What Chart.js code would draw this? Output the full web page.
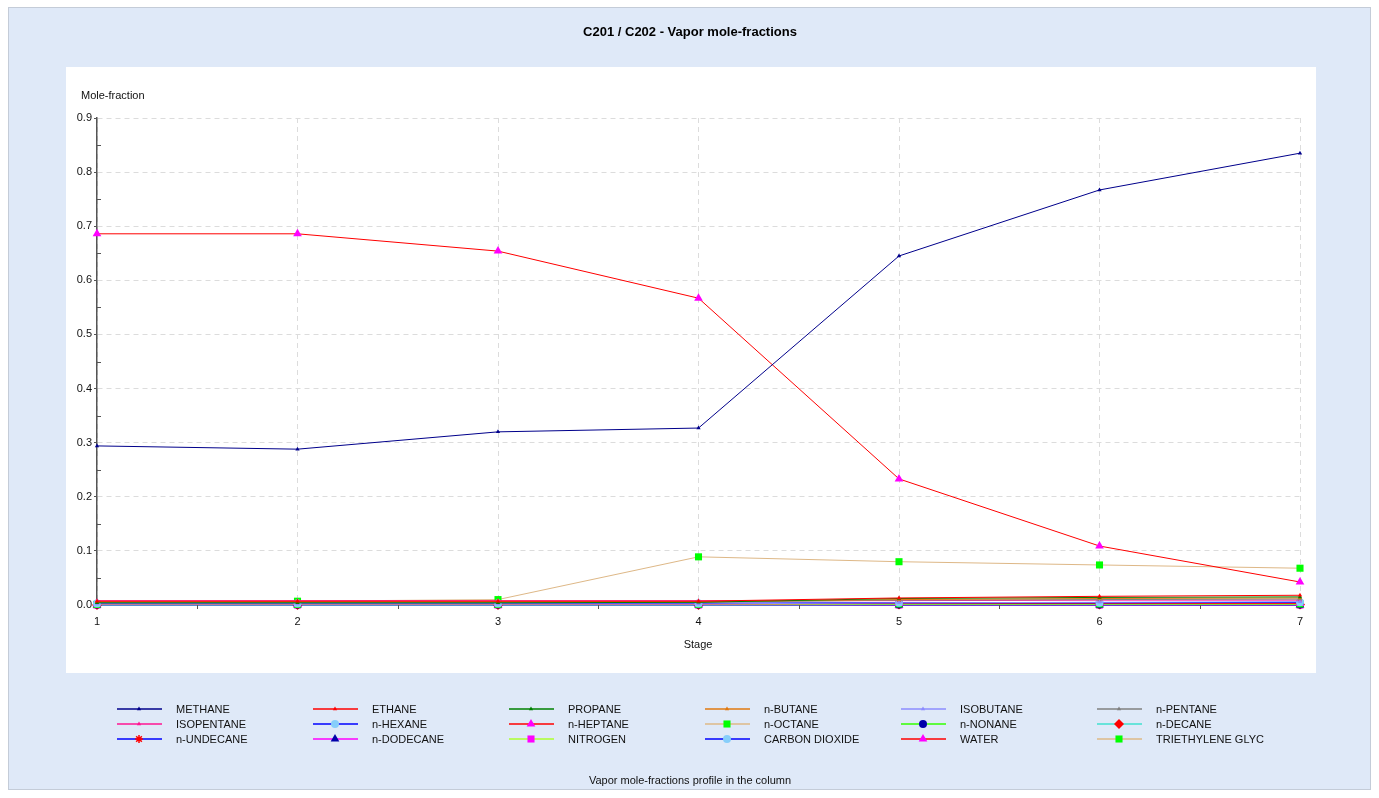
<!DOCTYPE html>
<html>
<head>
<meta charset="utf-8">
<script src="https://cdn.jsdelivr.net/npm/chart.js@4"></script>
<style>
  body { margin: 0; background: #fff; }
  canvas { display: block; }
</style>
</head>
<body>
<canvas id="graf" width="1379" height="798"></canvas>
<script>
const stages = [1, 2, 3, 4, 5, 6, 7];
const yTicks = [0, 0.1, 0.2, 0.3, 0.4, 0.5, 0.6, 0.7, 0.8, 0.9];

// vapor mole-fractions per stage
const methane    = [0.294, 0.288, 0.320, 0.327, 0.645, 0.767, 0.835];
const ethane     = [0.007, 0.007, 0.007, 0.007, 0.013, 0.016, 0.018];
const propane    = [0.004, 0.004, 0.004, 0.005, 0.012, 0.014, 0.015];
const nButane    = [0.006, 0.006, 0.006, 0.006, 0.010, 0.012, 0.013];
const isobutane  = [0.002, 0.002, 0.002, 0.002, 0.004, 0.005, 0.006];
const nPentane   = [0.005, 0.005, 0.005, 0.005, 0.009, 0.010, 0.011];
const isopentane = [0.008, 0.008, 0.008, 0.008, 0.008, 0.009, 0.009];
const nHexane    = [0.003, 0.003, 0.003, 0.003, 0.004, 0.004, 0.005];
const nHeptane   = [0.002, 0.002, 0.002, 0.002, 0.003, 0.003, 0.003];
const nOctane    = [0.001, 0.001, 0.001, 0.001, 0.002, 0.002, 0.002];
const nNonane    = [0.001, 0.001, 0.001, 0.001, 0.001, 0.001, 0.001];
const nDecane    = [0.000, 0.000, 0.000, 0.000, 0.001, 0.001, 0.001];
const nUndecane  = [0.000, 0.000, 0.000, 0.000, 0.000, 0.000, 0.000];
const nDodecane  = [0.000, 0.000, 0.000, 0.000, 0.000, 0.000, 0.000];
const nitrogen   = [0.000, 0.000, 0.000, 0.000, 0.000, 0.000, 0.000];
const co2        = [0.003, 0.003, 0.003, 0.003, 0.004, 0.004, 0.004];
const water      = [0.686, 0.686, 0.654, 0.567, 0.233, 0.109, 0.0425];
const teg        = [0.001, 0.007, 0.010, 0.089, 0.080, 0.074, 0.068];

function serie(label, values, line, marker, style, size) {
  return {
    label: label,
    data: values.map((v, i) => ({ x: stages[i], y: v })),
    borderColor: line,
    borderWidth: 1,
    backgroundColor: marker,
    pointBackgroundColor: marker,
    pointBorderColor: marker,
    pointBorderWidth: style === 'star' ? 1.5 : 0,
    pointStyle: style,
    pointRadius: size,
    pointHoverRadius: size,
    tension: 0,
    fill: false,
    clip: false
  };
}

const datasets = [
  serie('METHANE', methane, '#00008b', '#00008b', 'triangle', 2.5),
  serie('ETHANE', ethane, '#ff0000', '#ff0000', 'triangle', 2.5),
  serie('PROPANE', propane, '#008000', '#008000', 'triangle', 2.5),
  serie('n-BUTANE', nButane, '#e07810', '#e07810', 'triangle', 2.5),
  serie('ISOBUTANE', isobutane, '#8c8cff', '#8c8cff', 'triangle', 2.5),
  serie('n-PENTANE', nPentane, '#808080', '#808080', 'triangle', 2.5),
  serie('ISOPENTANE', isopentane, '#ff1493', '#ff1493', 'triangle', 2.5),
  serie('n-HEXANE', nHexane, '#0000ff', '#87cefa', 'circle', 4),
  serie('n-HEPTANE', nHeptane, '#ff0000', '#ff00ff', 'triangle', 5),
  serie('n-OCTANE', nOctane, '#deb887', '#00ff00', 'rect', 5),
  serie('n-NONANE', nNonane, '#33ff00', '#0000aa', 'circle', 4),
  serie('n-DECANE', nDecane, '#40e0d0', '#ff0000', 'rectRot', 5),
  serie('n-UNDECANE', nUndecane, '#0000ff', '#ff0000', 'star', 4),
  serie('n-DODECANE', nDodecane, '#ff00ff', '#0000aa', 'triangle', 5),
  serie('NITROGEN', nitrogen, '#adff2f', '#ff00ff', 'rect', 5),
  serie('CARBON DIOXIDE', co2, '#0000ff', '#87cefa', 'circle', 4),
  serie('WATER', water, '#ff0000', '#ff00ff', 'triangle', 5),
  serie('TRIETHYLENE GLYC', teg, '#deb887', '#00ff00', 'rect', 5)
];

const FONT = 'Liberation Sans, Arial, sans-serif';

// background panels, titles, minor ticks and the grid legend
const rammer = {
  id: 'rammer',
  beforeDraw(chart) {
    const c = chart.ctx;
    c.save();
    c.fillStyle = '#ffffff';
    c.fillRect(0, 0, chart.width, chart.height);
    c.fillStyle = '#dfe9f8';
    c.fillRect(8, 7, 1363, 783);
    c.strokeStyle = '#c4ccd8';
    c.lineWidth = 1;
    c.strokeRect(8.5, 7.5, 1362, 782);
    c.fillStyle = '#ffffff';
    c.fillRect(66, 67, 1250, 606);
    c.restore();
  },
  afterDraw(chart) {
    const c = chart.ctx;
    const xs = chart.scales.x;
    const ys = chart.scales.y;
    c.save();
    c.setLineDash([]);
    c.fillStyle = '#000';
    c.textAlign = 'center';
    c.textBaseline = 'middle';
    c.font = 'bold 13px ' + FONT;
    c.fillText('C201 / C202 - Vapor mole-fractions', 690, 32);
    c.font = '11px ' + FONT;
    c.fillStyle = '#111';
    c.fillText('Stage', 698, 645);
    c.fillText('Vapor mole-fractions profile in the column', 690, 781);
    c.textAlign = 'left';
    c.fillText('Mole-fraction', 81, 96);

    // minor ticks
    c.strokeStyle = '#555';
    c.lineWidth = 1;
    c.beginPath();
    for (let v = 0.05; v < 0.9; v += 0.1) {
      const py = Math.round(ys.getPixelForValue(v)) + 0.5;
      c.moveTo(ys.right, py);
      c.lineTo(ys.right + 4, py);
    }
    for (let s = 1.5; s < 7; s += 1) {
      const px = Math.round(xs.getPixelForValue(s)) + 0.5;
      c.moveTo(px, xs.top);
      c.lineTo(px, xs.top + 4);
    }
    c.stroke();

    // legend in 6 columns
    chart.data.datasets.forEach((ds, i) => {
      const col = i % 6;
      const row = Math.floor(i / 6);
      const x0 = 117 + col * 196;
      const y0 = 709 + row * 15;
      c.setLineDash([]);
      c.strokeStyle = ds.borderColor;
      c.lineWidth = 1.5;
      c.beginPath();
      c.moveTo(x0, y0);
      c.lineTo(x0 + 45, y0);
      c.stroke();
      c.fillStyle = ds.pointBackgroundColor;
      c.strokeStyle = ds.pointBorderColor;
      c.lineWidth = ds.pointBorderWidth || 1;
      Chart.helpers.drawPoint(c, {
        pointStyle: ds.pointStyle,
        radius: ds.pointRadius,
        rotation: 0,
        borderWidth: ds.pointBorderWidth
      }, x0 + 22, y0);
      c.fillStyle = '#111';
      c.font = '11px ' + FONT;
      c.textAlign = 'left';
      c.fillText(ds.label, x0 + 59, y0 + 0.5);
    });
    c.restore();
  }
};

const ctx = document.getElementById('graf').getContext('2d');
const graf = new Chart(ctx, {
  type: 'line',
  data: { datasets: datasets },
  options: {
    responsive: false,
    animation: false,
    events: [],
    layout: { padding: { left: 0, right: 79, top: 118, bottom: 153 } },
    plugins: {
      legend: { display: false },
      title: { display: false },
      tooltip: { enabled: false }
    },
    scales: {
      x: {
        type: 'linear',
        min: 1,
        max: 7,
        afterFit: s => { s.height = 40; },
        afterBuildTicks: s => { s.ticks = stages.map(v => ({ value: v })); },
        ticks: {
          color: '#111',
          font: { family: FONT, size: 11 },
          padding: 6,
          maxRotation: 0,
          callback: v => String(v)
        },
        grid: { color: '#dcdcdc', tickColor: '#dcdcdc', tickLength: 4, lineWidth: 1 },
        border: { display: true, color: '#555', width: 1.5, dash: [5, 4] }
      },
      y: {
        min: 0,
        max: 0.9,
        afterFit: s => { s.width = 97; },
        afterBuildTicks: s => { s.ticks = yTicks.map(v => ({ value: v })); },
        ticks: {
          color: '#111',
          font: { family: FONT, size: 11 },
          padding: 2,
          callback: v => v.toFixed(1)
        },
        grid: { color: '#dcdcdc', tickColor: '#555', tickLength: 3, lineWidth: 1 },
        border: { display: true, color: '#555', width: 1.5, dash: [5, 4] }
      }
    }
  },
  plugins: [rammer]
});
</script>
</body>
</html>
